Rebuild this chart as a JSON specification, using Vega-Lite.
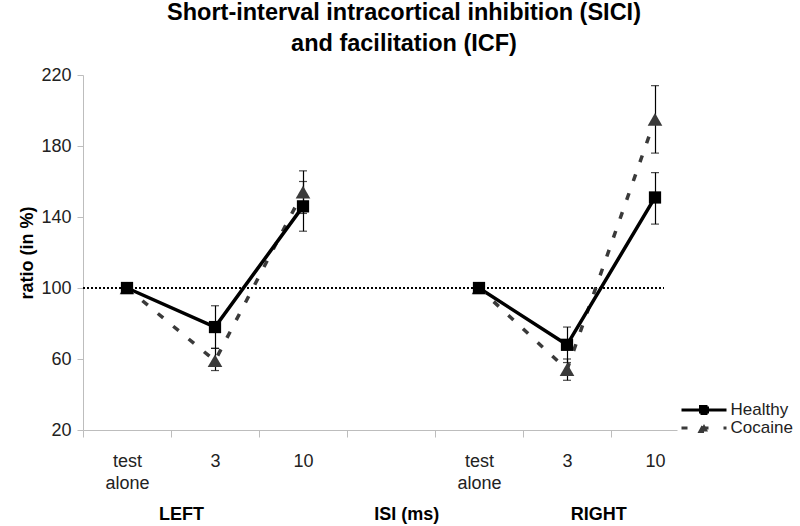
{
  "$schema": "https://vega.github.io/schema/vega-lite/v6.json",
  "width": 616,
  "height": 355,
  "autosize": {"type": "none"},
  "padding": {"left": 83, "top": 75, "right": 101, "bottom": 96},
  "background": "white",
  "config": {"view": {"stroke": null}, "font": "Liberation Sans"},
  "title": {
    "text": ["Short-interval intracortical inhibition (SICI)", "and facilitation (ICF)"],
    "font": "Liberation Sans",
    "fontSize": 23.5,
    "fontWeight": "bold",
    "color": "#000000",
    "anchor": "middle",
    "frame": "group",
    "dx": 13,
    "offset": 11,
    "lineHeight": 31
  },
  "datasets": {
    "points": [
      {"group": "Healthy", "side": "LEFT", "isi": "L-test", "ratio": 100, "lo": null, "hi": null},
      {"group": "Healthy", "side": "LEFT", "isi": "L-3", "ratio": 78, "lo": 66, "hi": 90},
      {"group": "Healthy", "side": "LEFT", "isi": "L-10", "ratio": 146, "lo": 132, "hi": 160},
      {"group": "Healthy", "side": "RIGHT", "isi": "R-test", "ratio": 100, "lo": null, "hi": null},
      {"group": "Healthy", "side": "RIGHT", "isi": "R-3", "ratio": 68, "lo": 58, "hi": 78},
      {"group": "Healthy", "side": "RIGHT", "isi": "R-10", "ratio": 151, "lo": 136, "hi": 165},
      {"group": "Cocaine", "side": "LEFT", "isi": "L-test", "ratio": 100, "lo": null, "hi": null},
      {"group": "Cocaine", "side": "LEFT", "isi": "L-3", "ratio": 59, "lo": 53.5, "hi": 66},
      {"group": "Cocaine", "side": "LEFT", "isi": "L-10", "ratio": 154, "lo": 142, "hi": 166},
      {"group": "Cocaine", "side": "RIGHT", "isi": "R-test", "ratio": 100, "lo": null, "hi": null},
      {"group": "Cocaine", "side": "RIGHT", "isi": "R-3", "ratio": 54, "lo": 48, "hi": 60},
      {"group": "Cocaine", "side": "RIGHT", "isi": "R-10", "ratio": 195, "lo": 176, "hi": 214}
    ]
  },
  "layer": [
    {
      "data": {"name": "points"},
      "mark": {"type": "rule", "color": "#000000", "strokeWidth": 1, "strokeDash": [2, 2]},
      "encoding": {
        "y": {"datum": 100, "type": "quantitative"},
        "x": {"datum": "L-test", "type": "nominal", "bandPosition": 0},
        "x2": {"datum": "R-10", "bandPosition": 0.6}
      }
    },
    {
      "data": {"name": "points"},
      "transform": [{"filter": "isValid(datum.lo)"}],
      "mark": {"type": "errorbar", "color": "#000000", "ticks": {"size": 8, "thickness": 1.2, "color": "#000000"}, "rule": {"strokeWidth": 1.2, "color": "#000000"}},
      "encoding": {
        "x": {"field": "isi", "type": "nominal", "bandPosition": 0.5057},
        "y": {"field": "lo", "type": "quantitative", "title": "ratio (in %)"},
        "y2": {"field": "hi"}
      }
    },
    {
      "data": {"name": "points"},
      "transform": [{"filter": "datum.group == 'Cocaine'"}],
      "mark": {"type": "line", "strokeWidth": 3.5, "color": "#3a3a3a", "strokeDash": [7, 13]},
      "encoding": {
        "x": {"field": "isi", "type": "nominal"},
        "y": {"field": "ratio", "type": "quantitative", "title": "ratio (in %)"},
        "detail": {"field": "side"}
      }
    },
    {
      "data": {"name": "points"},
      "transform": [{"filter": "datum.group == 'Healthy'"}],
      "mark": {"type": "line", "strokeWidth": 3.5, "color": "#000000"},
      "encoding": {
        "x": {
          "field": "isi",
          "type": "nominal",
          "scale": {"type": "band", "domain": ["L-test", "L-3", "L-10", "gap", "R-test", "R-3", "R-10"], "paddingInner": 0, "paddingOuter": 0},
          "axis": {
            "title": null,
            "domainColor": "#bdbdbd",
            "tickBand": "extent",
            "tickColor": "#bdbdbd",
            "tickSize": 7,
            "grid": false,
            "labelExpr": "datum.value == 'L-test' || datum.value == 'R-test' ? ['test', 'alone'] : datum.value == 'gap' ? '' : split(datum.value, '-')[1]",
            "labelFont": "Liberation Sans",
            "labelFontSize": 18,
            "labelColor": "#222222",
            "labelPadding": 15,
            "labelLineHeight": 22,
            "labelBaseline": "top",
            "labelAngle": 0,
            "labelAlign": "center"
          }
        },
        "y": {
          "field": "ratio",
          "type": "quantitative",
          "title": "ratio (in %)",
          "scale": {"domain": [20, 220], "nice": false, "zero": false},
          "axis": {
            "values": [20, 60, 100, 140, 180, 220],
            "grid": false,
            "title": "ratio (in %)",
            "titleFont": "Liberation Sans",
            "titleFontSize": 18,
            "titleFontWeight": "bold",
            "titleColor": "#000000",
            "titlePadding": 4,
            "domainColor": "#bdbdbd",
            "tickColor": "#bdbdbd",
            "tickSize": 6,
            "labelFont": "Liberation Sans",
            "labelFontSize": 18,
            "labelColor": "#222222",
            "labelPadding": 6
          }
        },
        "detail": {"field": "side"}
      }
    },
    {
      "data": {"name": "points"},
      "transform": [{"filter": "datum.group == 'Cocaine'"}],
      "mark": {"type": "point", "filled": true, "opacity": 1, "size": 215, "shape": "triangle-up", "color": "#3a3a3a"},
      "encoding": {
        "x": {"field": "isi", "type": "nominal"},
        "y": {"field": "ratio", "type": "quantitative", "title": "ratio (in %)"}
      }
    },
    {
      "data": {"name": "points"},
      "transform": [{"filter": "datum.group == 'Healthy'"}],
      "mark": {"type": "point", "filled": true, "opacity": 1, "size": 150, "shape": "square", "color": "#000000"},
      "encoding": {
        "x": {"field": "isi", "type": "nominal"},
        "y": {"field": "ratio", "type": "quantitative", "title": "ratio (in %)"}
      }
    },
    {
      "data": {"name": "points"},
      "transform": [{"filter": "datum.ratio < 0"}],
      "mark": {"type": "point", "filled": true, "opacity": 1, "size": 100, "strokeWidth": 3},
      "encoding": {
        "shape": {
          "field": "group",
          "type": "nominal",
          "scale": {"domain": ["Healthy", "Cocaine"], "range": ["M-4.5,0H4.5M-0.7,-0.7H0.7V0.7H-0.7Z", "M-4.5,0H4.5M-0.8,0.7L0,-0.8L0.8,0.7Z"]},
          "legend": {
            "orient": "none",
            "legendX": 594.5,
            "legendY": 308.5,
            "title": null,
            "fillColor": "white",
            "padding": 18,
            "labelFont": "Liberation Sans",
            "labelFontSize": 17,
            "labelColor": "#222222",
            "labelOffset": 18,
            "symbolSize": 100,
            "symbolStrokeWidth": 3,
            "symbolOpacity": 1,
            "rowPadding": -4
          }
        },
        "fill": {
          "field": "group",
          "type": "nominal",
          "scale": {"domain": ["Healthy", "Cocaine"], "range": ["#000000", "#3a3a3a"]}
        },
        "stroke": {
          "field": "group",
          "type": "nominal",
          "scale": {"domain": ["Healthy", "Cocaine"], "range": ["#000000", "#3a3a3a"]}
        },
        "strokeDash": {
          "field": "group",
          "type": "nominal",
          "scale": {"domain": ["Healthy", "Cocaine"], "range": [[1, 0], [6, 15]]}
        }
      }
    },
    {
      "data": {"values": [{}]},
      "mark": {"type": "text", "text": "LEFT", "font": "Liberation Sans", "fontSize": 18, "fontWeight": "bold", "color": "#000000", "baseline": "middle", "align": "center"},
      "encoding": {
        "x": {"datum": "L-3", "type": "nominal", "bandPosition": 0.12},
        "y": {"datum": -28, "type": "quantitative"}
      }
    },
    {
      "data": {"values": [{}]},
      "mark": {"type": "text", "text": "ISI (ms)", "font": "Liberation Sans", "fontSize": 18, "fontWeight": "bold", "color": "#000000", "baseline": "middle", "align": "center"},
      "encoding": {
        "x": {"datum": "gap", "type": "nominal", "bandPosition": 0.68},
        "y": {"datum": -28, "type": "quantitative"}
      }
    },
    {
      "data": {"values": [{}]},
      "mark": {"type": "text", "text": "RIGHT", "font": "Liberation Sans", "fontSize": 18, "fontWeight": "bold", "color": "#000000", "baseline": "middle", "align": "center"},
      "encoding": {
        "x": {"datum": "R-3", "type": "nominal", "bandPosition": 0.86},
        "y": {"datum": -28, "type": "quantitative"}
      }
    }
  ]
}
